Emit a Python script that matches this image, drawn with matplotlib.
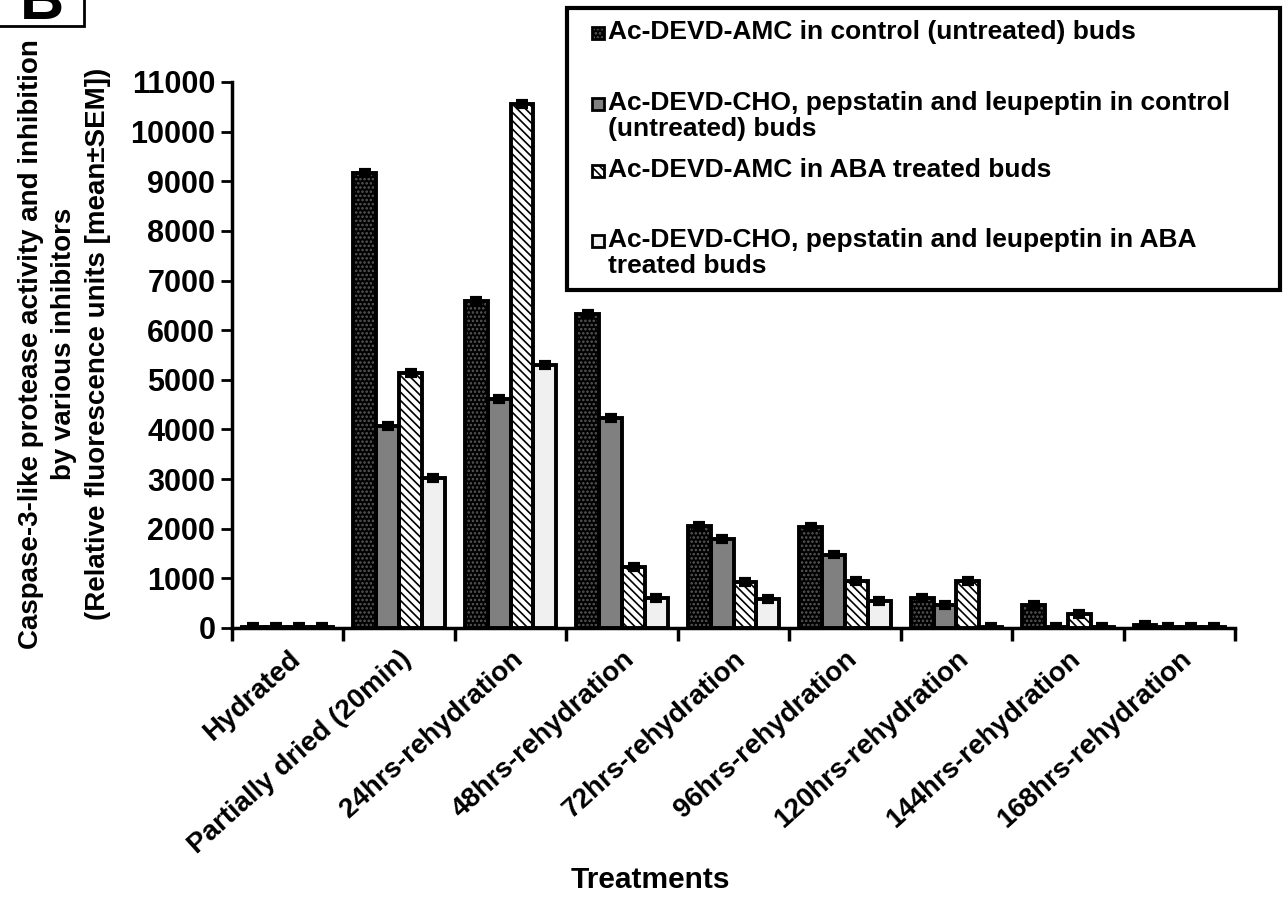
import matplotlib
matplotlib.use("Agg")
import matplotlib.pyplot as plt
from matplotlib.patches import Rectangle
import numpy as np

plt.rcParams['font.family'] = ['Liberation Sans', 'DejaVu Sans']
plt.rcParams['font.weight'] = 'bold'
plt.rcParams['hatch.linewidth'] = 1.2

# ── data ──────────────────────────────────────────────────────────────────────
treatments = ["Hydrated", "Partially dried (20min)", "24hrs-rehydration",
              "48hrs-rehydration", "72hrs-rehydration", "96hrs-rehydration",
              "120hrs-rehydration", "144hrs-rehydration", "168hrs-rehydration"]

amc_control = [20, 9170, 6580, 6320, 2060, 2040, 600, 460, 60]
cho_control = [20, 4060, 4610, 4240, 1800, 1480, 460, 20, 20]
amc_aba     = [20, 5130, 10560, 1230, 920, 940, 950, 290, 20]
cho_aba     = [20, 3030, 5290, 610, 590, 550, 20, 20, 20]
sem         = [60, 60, 60, 60, 60, 60, 60, 60, 60]

series_labels = ["Ac-DEVD-AMC in control (untreated) buds",
                 "Ac-DEVD-CHO, pepstatin and leupeptin in control\n(untreated) buds",
                 "Ac-DEVD-AMC in ABA treated buds",
                 "Ac-DEVD-CHO, pepstatin and leupeptin in ABA\ntreated buds"]

# fill, hatch, hatch colour
STYLES = [("black", "....", "#5a5a5a"),
          ("#808080", None, "black"),
          ("white", "\\\\\\\\", "black"),
          ("#f0f0f0", None, "black")]

fig = plt.figure(figsize=(12.86, 9.08), dpi=100)
ax = fig.add_axes([0.1804, 0.3084, 0.7800, 0.6013])

x = np.arange(len(treatments))
w = 0.205
all_series = [amc_control, cho_control, amc_aba, cho_aba]
for k, (vals, (fc, hatch, hc)) in enumerate(zip(all_series, STYLES)):
    pos = x + (k - 1.5) * w
    ax.bar(pos, vals, w, color=fc, hatch=hatch, edgecolor=hc, lw=0, zorder=2)
    ax.bar(pos, vals, w, fill=False, edgecolor="black", lw=2.8, zorder=3)
    ax.errorbar(pos, vals, yerr=sem, fmt="none", ecolor="black",
                elinewidth=2.5, capsize=4, capthick=3, zorder=4)

ax.set_xlim(-0.5, len(treatments) - 0.5)
ax.set_ylim(0, 11000)
ax.set_yticks(np.arange(0, 11001, 1000))
ax.tick_params(axis="y", direction="out", length=8, width=2, labelsize=22, pad=4)

ax.set_xticks(x)
ax.set_xticklabels(treatments, rotation=42, ha="right", va="top",
                   rotation_mode="anchor", fontsize=20)
ax.tick_params(axis="x", length=0, pad=13)
ax.set_xticks(np.arange(-0.5, len(treatments), 1.0), minor=True)
ax.tick_params(axis="x", which="minor", direction="out", length=9, width=2.5)

for s in ("top", "right"):
    ax.spines[s].set_visible(False)
for s in ("left", "bottom"):
    ax.spines[s].set_linewidth(2.5)

ax.set_ylabel("Caspase-3-like protease activity and inhibition\n"
              "by various inhibitors\n"
              "(Relative fluorescence units [mean\u00b1SEM])",
              fontsize=20, fontweight="bold", linespacing=1.38, labelpad=14)
ax.yaxis.label.set_y(0.52)
fig.text(650 / 1286, 1 - 880 / 908, "Treatments", ha="center", va="center",
         fontsize=21.5)

# ── legend (drawn by hand to keep the stacked layout) ─────────────────────────
def fx(px):
    return px / 1286

def fy(py):
    return 1 - py / 908

fig.patches.append(Rectangle((fx(567), fy(290)), fx(1280) - fx(567),
                             fy(8) - fy(290), transform=fig.transFigure,
                             fill=False, edgecolor="black", lw=3))
rows = [33, 104, 171, 241]
for (fc, hatch, hc), lab, yy in zip(STYLES, series_labels, rows):
    sq = 12
    fig.patches.append(Rectangle((fx(592), fy(yy + sq / 2)), sq / 1286, sq / 908,
                                 transform=fig.transFigure, facecolor=fc,
                                 hatch=hatch, edgecolor=hc, lw=0))
    fig.patches.append(Rectangle((fx(592), fy(yy + sq / 2)), sq / 1286, sq / 908,
                                 transform=fig.transFigure, fill=False,
                                 edgecolor="black", lw=2))
    fig.text(fx(608), fy(yy - 13), lab, ha="left", va="top", fontsize=19,
             linespacing=1.1)

# ── panel letter ──────────────────────────────────────────────────────────────
fig.patches.append(Rectangle((fx(-5), fy(26)), fx(84) - fx(-5), fy(-10) - fy(26),
                             transform=fig.transFigure, fill=False,
                             edgecolor="black", lw=2))
fig.text(fx(42), fy(19), "B", ha="center", va="baseline", fontsize=44)

fig.savefig("out.png", dpi=100)
